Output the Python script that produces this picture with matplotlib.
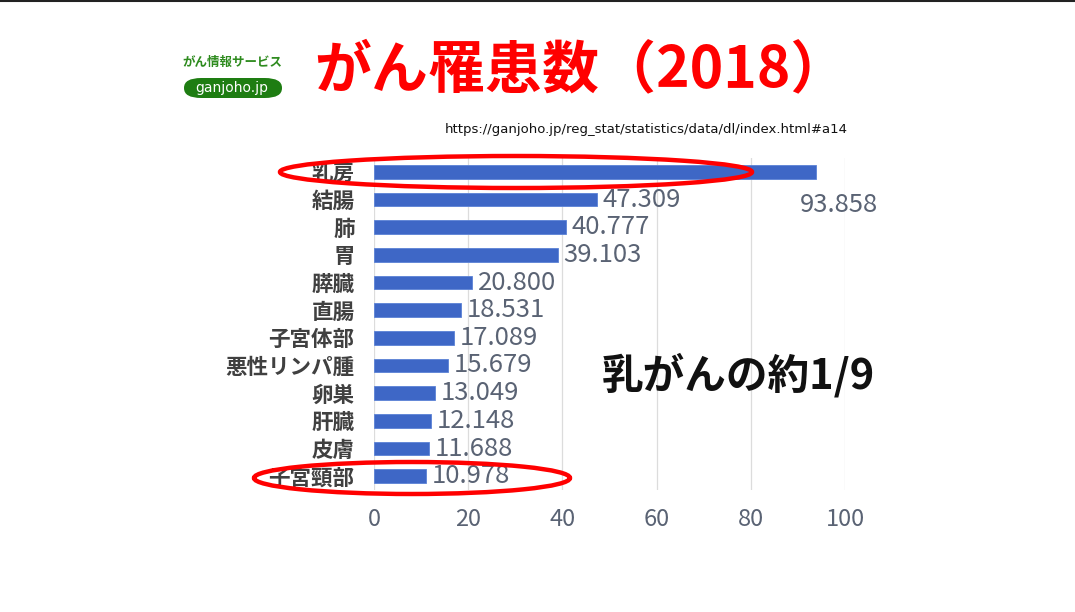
import matplotlib
matplotlib.use("Agg")
import matplotlib.pyplot as plt
from matplotlib.patches import Ellipse, FancyBboxPatch
from matplotlib.lines import Line2D

plt.rcParams['font.family'] = ['Noto Sans CJK JP', 'DejaVu Sans']

categories = ["乳房", "結腸", "肺", "胃", "膵臓", "直腸", "子宮体部",
              "悪性リンパ腫", "卵巣", "肝臓", "皮膚", "子宮頸部"]
values = [93.858, 47.309, 40.777, 39.103, 20.800, 18.531, 17.089,
          15.679, 13.049, 12.148, 11.688, 10.978]
value_labels = ["93.858", "47.309", "40.777", "39.103", "20.800", "18.531",
                "17.089", "15.679", "13.049", "12.148", "11.688", "10.978"]
xticks = [0, 20, 40, 60, 80, 100]

W, H = 1075, 612
fig = plt.figure(figsize=(W / 100, H / 100), dpi=100)
fig.patch.set_facecolor("white")

ax = fig.add_axes([374 / W, 1 - 490 / H, (845 - 374) / W, (490 - 158) / H])
ypos = list(range(len(categories)))
ax.barh(ypos, values, height=0.5, color="#3E67C6", edgecolor="#5B82D6",
        linewidth=0.6, zorder=3)
ax.set_xlim(0, 100)
ax.set_ylim(len(categories) - 0.5, -0.5)
ax.set_xticks(xticks)
ax.set_xticklabels([str(t) for t in xticks], fontsize=17, color="#5A6374")
ax.set_yticks(ypos)
ax.set_yticklabels(categories, fontsize=15.5, fontweight="bold", color="#404040")
ax.tick_params(axis="both", length=0)
ax.tick_params(axis="x", pad=13)
ax.tick_params(axis="y", pad=14)
for s in ax.spines.values():
    s.set_visible(False)
ax.grid(axis="x", color="#DCDCDC", linewidth=0.9, zorder=0)
ax.set_axisbelow(True)

for i, (v, lab) in enumerate(zip(values, value_labels)):
    if i == 0:
        ax.annotate(lab, xy=(v, i), xytext=(-11.5, -24), textcoords="offset points",
                    ha="left", va="center", fontsize=18.5, color="#5A6374", zorder=4)
    else:
        ax.annotate(lab, xy=(v, i), xytext=(4, 0), textcoords="offset points",
                    ha="left", va="center", fontsize=18.5, color="#5A6374", zorder=4)

# Title
fig.text(581 / W, 1 - 70 / H, "がん罹患数（2018）", ha="center", va="center",
         fontsize=41, fontweight="bold", color="#FF0000")

# Logo
fig.text(232 / W, 1 - 62 / H, "がん情報サービス", ha="center", va="center",
         fontsize=9, fontweight="bold", color="#2E8B1E")
logo = FancyBboxPatch((184 / W, 1 - 98 / H), 98 / W, 20 / H,
                      boxstyle="round,pad=0,rounding_size=0.016",
                      transform=fig.transFigure, facecolor="#1E7D12",
                      edgecolor="none")
fig.patches.append(logo)
fig.text(232 / W, 1 - 88 / H, "ganjoho.jp", ha="center", va="center",
         fontsize=10, color="white", family=["DejaVu Sans"])

# URL
fig.text(848 / W, 1 - 129 / H,
         "https://ganjoho.jp/reg_stat/statistics/data/dl/index.html#a14",
         ha="right", va="center", fontsize=9.5, color="#111111",
         family=["DejaVu Sans"])

# Annotation text
fig.text(738 / W, 1 - 375 / H, "乳がんの約1/9", ha="center", va="center",
         fontsize=30, fontweight="bold", color="#111111")

# Red ellipses
e1 = Ellipse((516 / W, 1 - 172 / H), 472 / W, 32 / H, transform=fig.transFigure,
             fill=False, edgecolor="#FF0000", linewidth=3.2, zorder=10)
e2 = Ellipse((412 / W, 1 - 478 / H), 316 / W, 32 / H, transform=fig.transFigure,
             fill=False, edgecolor="#FF0000", linewidth=3.2, zorder=10)
fig.patches.extend([e1, e2])

# Top border line
fig.lines.append(Line2D([0, 1], [1 - 1 / H, 1 - 1 / H], transform=fig.transFigure,
                        color="#222222", linewidth=1.5))

fig.savefig("out.png", dpi=100, facecolor="white")
